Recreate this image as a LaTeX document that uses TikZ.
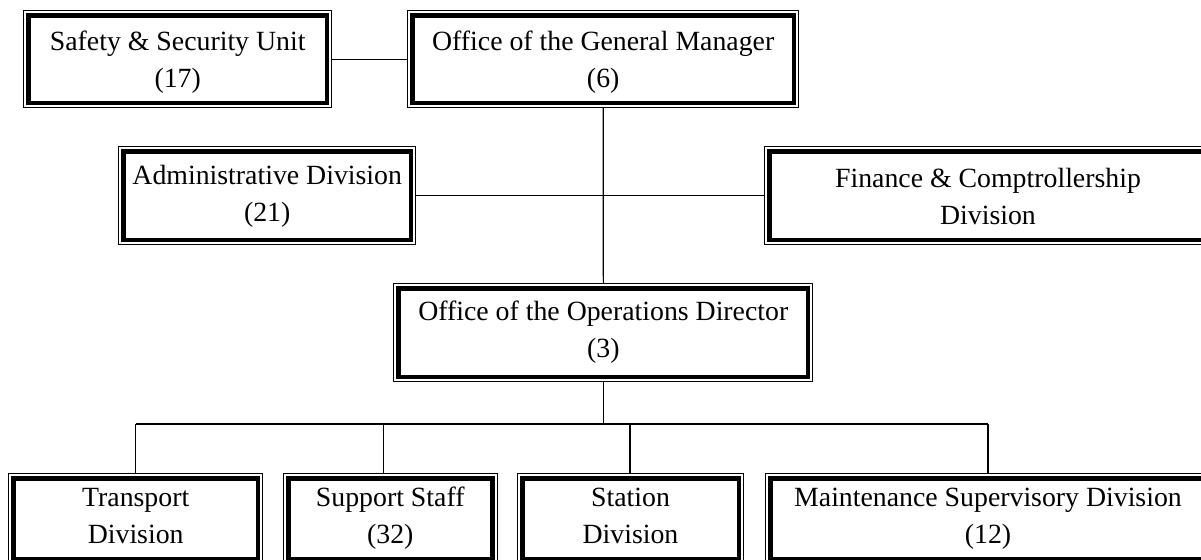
\documentclass[tikz,border=0pt]{standalone}
\usepackage{fontspec}
\setmainfont{Liberation Serif}
\begin{document}
\begin{tikzpicture}[x=0.5pt,y=-0.5pt]
\tikzset{
  unit/.style={draw, line width=2.25pt, inner sep=0pt, outer sep=2.375pt,
    minimum height=44.25pt},
  lbl/.style={inner sep=0pt, align=center, font=\fontsize{13.9}{18.25}\selectfont},
  frame/.style={line width=0.5pt},
  conn/.style={line width=0.55pt}
}
\useasboundingbox (0,0) rectangle (1201,559);
% boxes
\node[unit, minimum width=149.4pt, minimum height=43.9pt] (saf) at (177.7,59.2) {};
\node[unit, minimum width=190.6pt, minimum height=43.9pt] (gm) at (603.2,59.2) {};
\node[unit, minimum width=143.75pt] (adm) at (267.2,195.5) {};
\node[unit, minimum width=218.75pt] (fin) at (988,195.5) {};
\node[unit, minimum width=204.75pt] (ops) at (603.3,332.5) {};
\node[unit, minimum width=122.05pt, minimum height=40.25pt] (tra) at (135.7,518.5) {};
\node[unit, minimum width=102pt, minimum height=40.25pt] (sup) at (390.25,518.5) {};
\node[unit, minimum width=108.25pt, minimum height=40.25pt] (sta) at (630.5,518.5) {};
\node[unit, minimum width=222.25pt, minimum height=40.25pt] (mnt) at (992.5,518.5) {};
% outer thin frames
\foreach \n in {saf,gm,adm,fin,ops,tra,sup,sta,mnt}
  \draw[frame] (\n.south west) rectangle (\n.north east);
% texts
\node[lbl] (safT) at ([yshift=-1.2pt]saf.center) {Safety \& Security Unit\strut\\(17)\strut};
\node[lbl] (gmT) at ([yshift=-1.2pt]gm.center) {Office of the General Manager\strut\\(6)\strut};
\node[lbl] (admT) at ([yshift=-0.1pt]adm.center) {Administrative Division\strut\\(21)\strut};
\node[lbl] (finT) at ([yshift=-1.6pt]fin.center) {Finance \& Comptrollership\strut\\Division\strut};
\node[lbl] (opsT) at ([yshift=0.4pt]ops.center) {Office of the Operations Director\strut\\(3)\strut};
\node[lbl] (traT) at ([yshift=0.4pt]tra.center) {Transport\strut\\Division\strut};
\node[lbl] (supT) at ([yshift=0.4pt]sup.center) {Support Staff\strut\\(32)\strut};
\node[lbl] (staT) at ([yshift=0.4pt]sta.center) {Station\strut\\Division\strut};
\node[lbl] (mntT) at ([yshift=0.4pt]mnt.center -| 988,0) {Maintenance Supervisory Division\strut\\(12)\strut};
% connectors
\draw[conn] (saf.east) -- (gm.west);
\draw[conn] (adm.east) -- (fin.west);
\draw[conn] (gm.south) -- (ops.north);
\coordinate (bus) at (603.3,424);
\coordinate (b1) at (135.7,424);
\coordinate (b2) at (383.5,424);
\coordinate (b3) at (630,424);
\coordinate (b4) at (988,424);
\draw[conn] (ops.south) -- (bus);
\draw[conn] (b1) -- (b4);
\draw[conn] (b1) -- (b1 |- tra.north);
\draw[conn] (b2) -- (b2 |- sup.north);
\draw[conn] (b3) -- (b3 |- sta.north);
\draw[conn] (b4) -- (b4 |- mnt.north);
\end{tikzpicture}
\end{document}
